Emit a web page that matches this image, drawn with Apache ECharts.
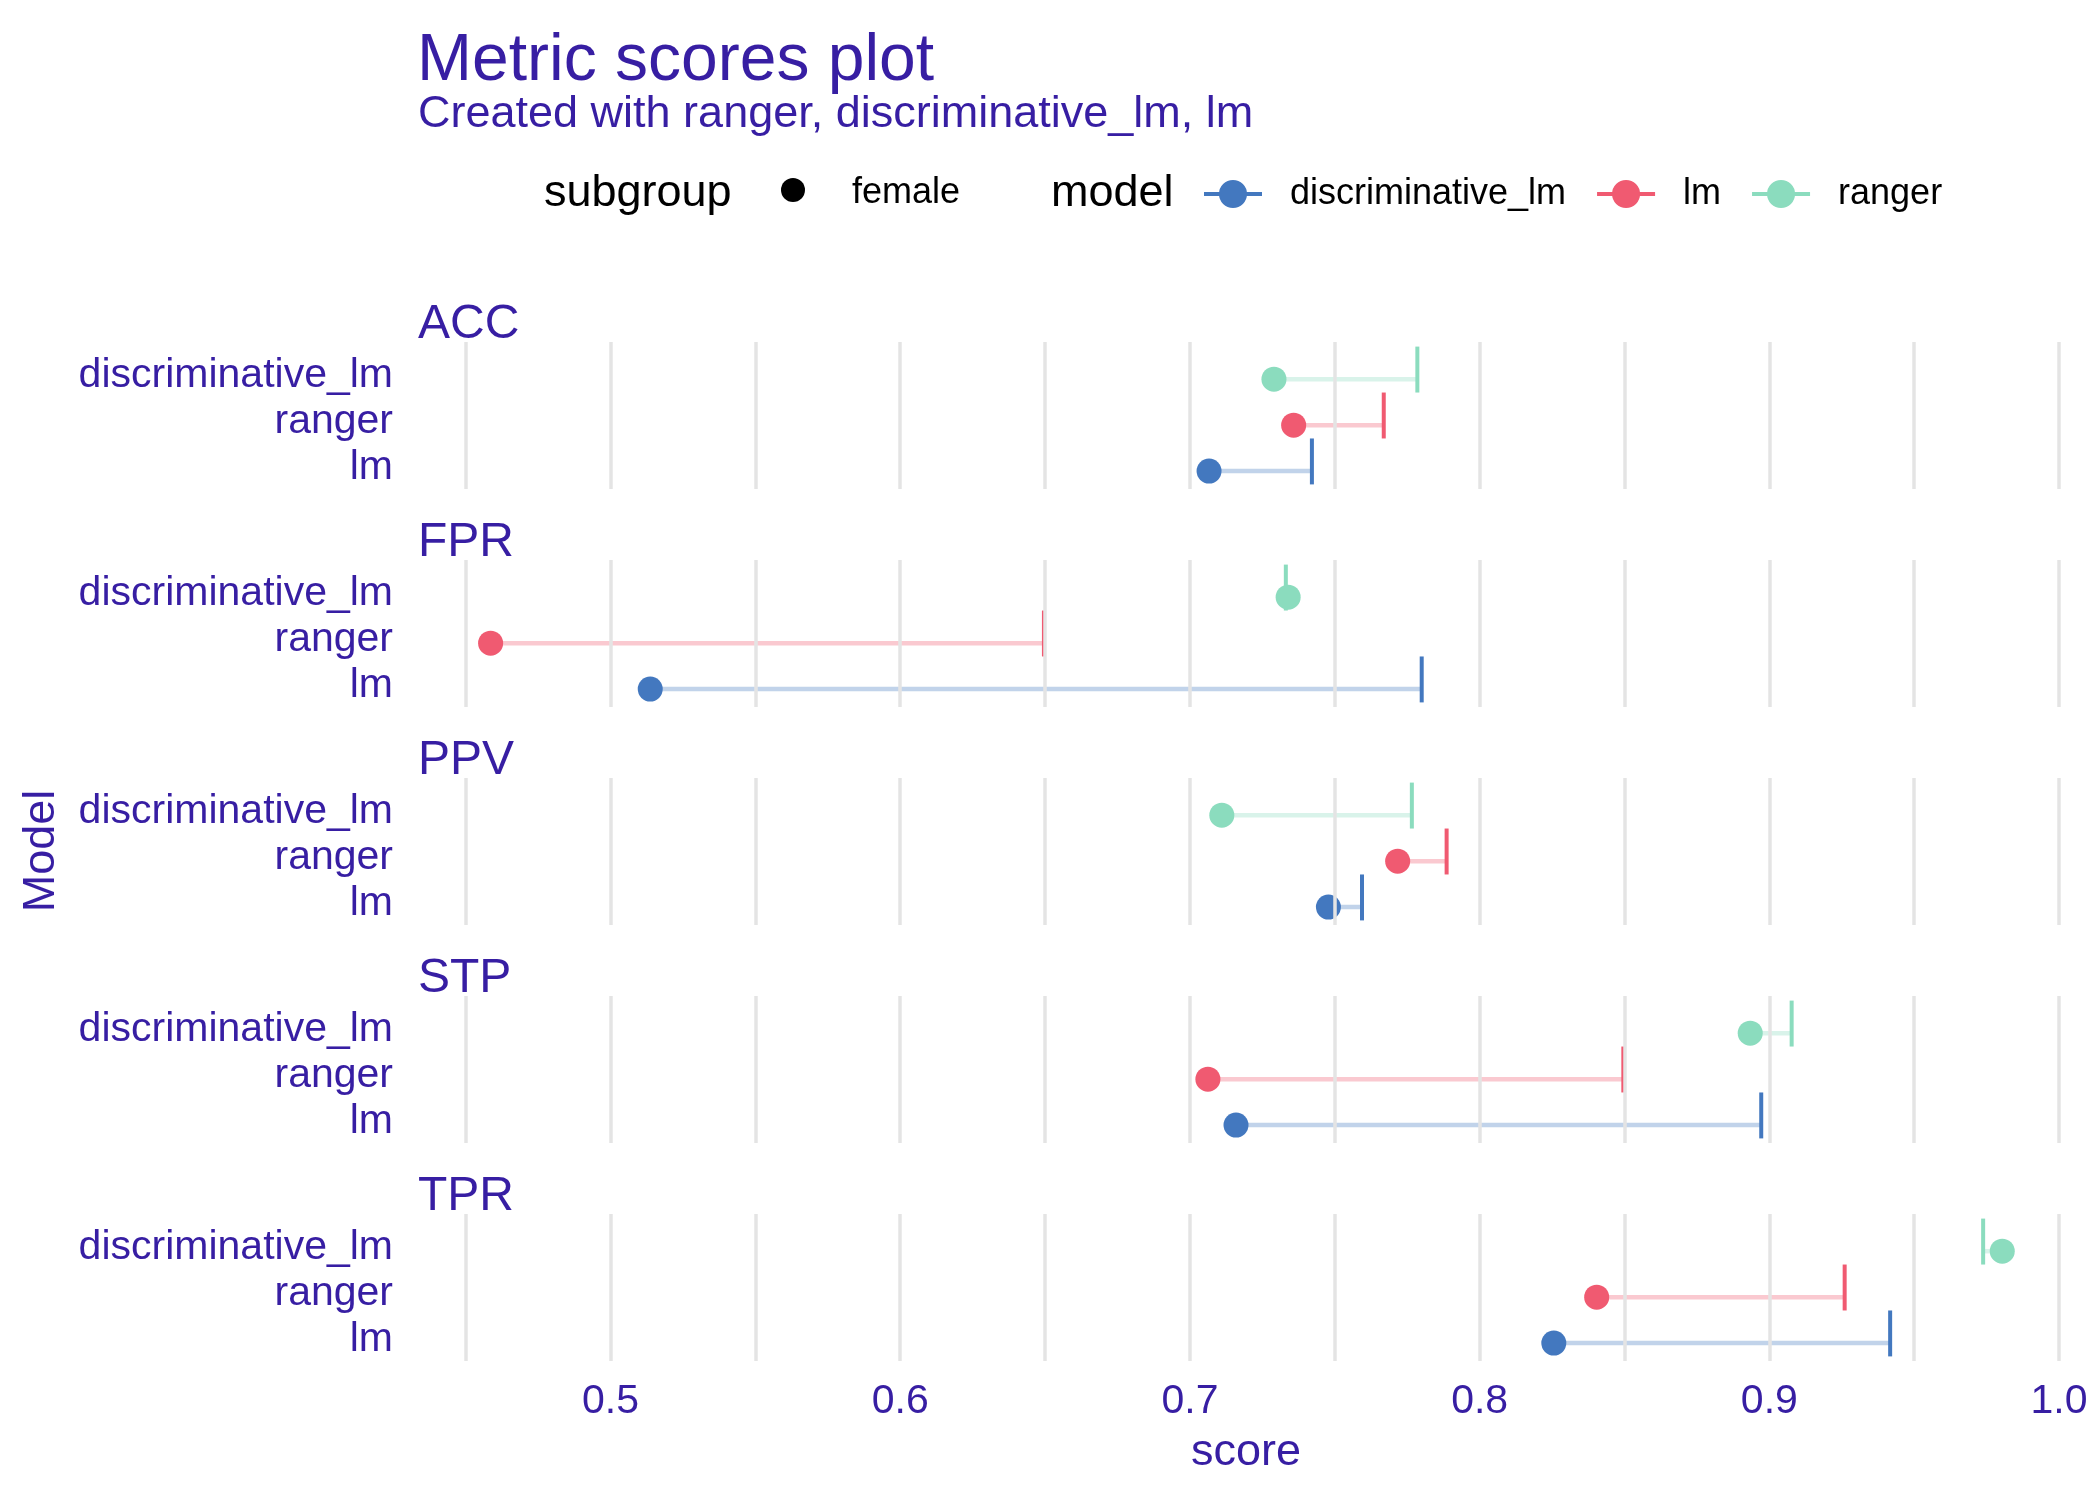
<!DOCTYPE html>
<html><head><meta charset="utf-8">
<script src="https://cdn.jsdelivr.net/npm/echarts@6/dist/echarts.min.js"></script>
<style>html,body{margin:0;padding:0;background:#fff}#c{width:2100px;height:1500px}</style>
</head><body><div id="c"></div>
<script>
// ---------- data ----------
const metrics = ['ACC', 'FPR', 'PPV', 'STP', 'TPR'];
const rowLabels = ['lm', 'ranger', 'discriminative_lm'];      // y rows, bottom to top
const models = ['discriminative_lm', 'lm', 'ranger'];
const modelColors = ['#4378bf', '#f05a71', '#8bdcbe'];
const modelRow = [1, 2, 3];                                     // row (1 = bottom) holding each model's marks
const femaleScores = {
  discriminative_lm: [0.7066, 0.5137, 0.7478, 0.7159, 0.8256],
  lm:                [0.7358, 0.4586, 0.7717, 0.7062, 0.8404],
  ranger:            [0.7290, 0.7339, 0.7110, 0.8934, 0.9804]
};
const privilegedScores = {
  discriminative_lm: [0.7421, 0.7800, 0.7594, 0.8972, 0.9417],
  lm:                [0.7669, 0.6496, 0.7886, 0.8496, 0.9260],
  ranger:            [0.7785, 0.7331, 0.7766, 0.9077, 0.9738]
};
const xTickValues = [0.5, 0.6, 0.7, 0.8, 0.9, 1.0];
const xTickLabels = ['0.5', '0.6', '0.7', '0.8', '0.9', '1.0'];
const gridValues = [0.45, 0.5, 0.55, 0.6, 0.65, 0.7, 0.75, 0.8, 0.85, 0.9, 0.95, 1.0];
const subgroupNames = ['female'];

// ---------- layout / style ----------
const FONT = '"Liberation Sans", Arial, Helvetica, sans-serif';
const INK = '#371ea3';
const X_MIN = 0.4325, X_MAX = 1.0062;
const GRID_LEFT = 415, GRID_RIGHT = 23, GRID_H = 147;
const gridTops = [342, 560, 778, 996, 1214];
const DODGE = 0.21;

const grids = [], xAxes = [], yAxes = [], series = [], titles = [];

titles.push({ text: 'Metric scores plot', left: 412, top: 24,
  textStyle: { fontFamily: FONT, fontSize: 66, fontWeight: 'normal', color: INK, lineHeight: 66 } });
titles.push({ text: 'Created with ranger, discriminative_lm, lm', left: 413, top: 87,
  textStyle: { fontFamily: FONT, fontSize: 45, fontWeight: 'normal', color: INK, lineHeight: 45 } });

metrics.forEach((m, gi) => {
  const last = gi === metrics.length - 1;
  grids.push({ left: GRID_LEFT, right: GRID_RIGHT, top: gridTops[gi], height: GRID_H, containLabel: false });
  titles.push({ text: m, left: 413, top: gridTops[gi] - 46,
    textStyle: { fontFamily: FONT, fontSize: 48, fontWeight: 'normal', color: INK, lineHeight: 48 } });
  xAxes.push({
    type: 'value', gridIndex: gi, min: X_MIN, max: X_MAX,
    axisLine: { show: false }, axisTick: { show: false }, splitLine: { show: false },
    axisLabel: last ? {
      show: true, customValues: xTickValues, margin: 20,
      formatter: v => xTickLabels[xTickValues.findIndex(t => Math.abs(t - v) < 1e-6)],
      fontFamily: FONT, fontSize: 41, color: INK, lineHeight: 41
    } : { show: false },
    name: last ? 'score' : '', nameLocation: 'middle', nameGap: 69,
    nameTextStyle: { fontFamily: FONT, fontSize: 45, color: INK, lineHeight: 45 }
  });
  yAxes.push({
    type: 'value', gridIndex: gi, min: 0.4, max: 3.6,
    axisLine: { show: false }, axisTick: { show: false }, splitLine: { show: false },
    axisLabel: {
      show: true, customValues: [1, 2, 3], margin: 22,
      formatter: v => rowLabels[Math.round(v) - 1],
      fontFamily: FONT, fontSize: 41, color: INK, verticalAlign: 'top', lineHeight: 13
    }
  });
  // vertical grid lines
  series.push({
    type: 'scatter', name: 'grid' + gi, xAxisIndex: gi, yAxisIndex: gi, data: [], silent: true,
    markLine: {
      silent: true, symbol: 'none', label: { show: false }, animation: false,
      lineStyle: { color: '#e4e4e4', width: 3.5, type: 'solid' },
      emphasis: { disabled: true },
      data: gridValues.map(v => ({ xAxis: v }))
    }
  });
  models.forEach((md, mi) => {
    const color = modelColors[mi];
    series.push({
      type: 'custom', name: md, xAxisIndex: gi, yAxisIndex: gi,
      itemStyle: { color: color },
      data: [[femaleScores[md][gi], privilegedScores[md][gi], modelRow[mi]]],
      renderItem: (params, api) => {
        const f = api.value(0), p = api.value(1), r = api.value(2);
        const a = api.coord([f, r - DODGE]);
        const b = api.coord([p, r - DODGE]);
        const t1 = api.coord([p, r - 0.5]);
        const t2 = api.coord([p, r + 0.5]);
        return { type: 'group', children: [
          { type: 'line', shape: { x1: a[0], y1: a[1], x2: b[0], y2: b[1] },
            style: { stroke: color, opacity: 0.33, lineWidth: 4.5 } },
          { type: 'line', shape: { x1: t1[0], y1: t1[1], x2: t2[0], y2: t2[1] },
            style: { stroke: color, lineWidth: 4 } },
          { type: 'circle', shape: { cx: a[0], cy: a[1], r: 12.5 },
            style: { fill: color } }
        ] };
      }
    });
  });
});

const chart = echarts.init(document.getElementById('c'), null, { renderer: 'canvas' });
chart.setOption({
  animation: false,
  backgroundColor: '#ffffff',
  title: titles,
  grid: grids,
  xAxis: xAxes,
  yAxis: yAxes,
  legend: {
    data: models,
    left: 1199, top: 171,
    itemWidth: 58, itemHeight: 28, itemGap: 31,
    icon: 'path://M0,12L58,12L58,16L0,16Z M15,14A14,14 0 1,1 43,14A14,14 0 1,1 15,14Z',
    textStyle: { fontFamily: FONT, fontSize: 36, color: '#000', padding: [0, 0, 0, 23] },
    selectedMode: false
  },
  graphic: [
    { type: 'text', left: 544, top: 189 - 18, style: { text: 'subgroup', font: '45px ' + FONT, fill: '#000' } },
    { type: 'circle', shape: { cx: 793, cy: 190, r: 12 }, style: { fill: '#000' } },
    { type: 'text', left: 852, top: 189 - 14, style: { text: subgroupNames[0], font: '36px ' + FONT, fill: '#000' } },
    { type: 'text', left: 1051, top: 189 - 18, style: { text: 'model', font: '45px ' + FONT, fill: '#000' } },
    { type: 'text', x: 42, y: 851, rotation: Math.PI / 2,
      style: { text: 'Model', font: '45px ' + FONT, fill: INK, align: 'center', verticalAlign: 'middle' } }
  ],
  series: series
});
</script>
</body></html>
